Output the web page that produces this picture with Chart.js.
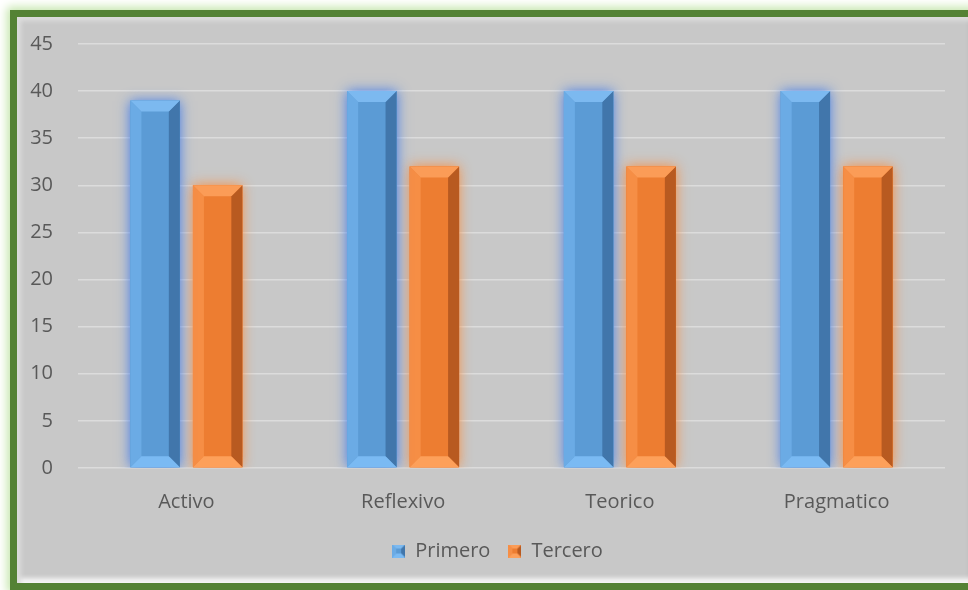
<!DOCTYPE html>
<html>
<head>
<meta charset="utf-8">
<script src="https://cdn.jsdelivr.net/npm/chart.js@4"></script>
<style>
  html, body { margin: 0; padding: 0; width: 968px; height: 590px; overflow: hidden; background: #ffffff; }
  .frame {
    position: absolute; left: 10px; top: 10px; width: 962px; height: 566px;
    border: 7px solid #548235; background: #c8c8c8;
    box-shadow: 0 0 9px 3px #c5e6ad, inset 7px 7px 4px -3px #dcdcdc, inset 0 -8px 4px -3px #f4f4f4, inset -12px 0 5px -4px #9c9c9c;
  }
  canvas { position: absolute; left: 0; top: 0; }
</style>
</head>
<body>
<div class="frame"></div>
<canvas id="chart" width="968" height="590"></canvas>
<script>
// categories and series
const categories = ['Activo', 'Reflexivo', 'Teorico', 'Pragmatico'];
const primero = [39, 40, 40, 40];
const tercero = [30, 32, 32, 32];
const yTicks = [0, 5, 10, 15, 20, 25, 30, 35, 40, 45];

// bevel colours per series
const looks = [
  { main: '#5b9bd5', top: '#7cb9f0', left: '#6babe5', right: '#4176ab', bottom: '#7abaf3', glow: 'rgba(60,120,235,0.95)' },
  { main: '#ed7d31', top: '#fb9c57', left: '#f68e45', right: '#b85a20', bottom: '#fda05a', glow: 'rgba(250,140,60,0.95)' }
];

function poly(ctx, pts, color) {
  ctx.beginPath();
  ctx.moveTo(pts[0][0], pts[0][1]);
  for (let i = 1; i < pts.length; i++) ctx.lineTo(pts[i][0], pts[i][1]);
  ctx.closePath();
  ctx.fillStyle = color;
  ctx.fill();
}

// draws the bevelled box look used by bars and legend icons
function bevel(ctx, x0, x1, yT, yB, look, b) {
  ctx.fillStyle = look.main;
  ctx.fillRect(x0, yT, x1 - x0, yB - yT);
  poly(ctx, [[x0, yT], [x0 + b, yT + b], [x0 + b, yB - b], [x0, yB]], look.left);
  poly(ctx, [[x1, yT], [x1 - b, yT + b], [x1 - b, yB - b], [x1, yB]], look.right);
  poly(ctx, [[x0, yT], [x1, yT], [x1 - b, yT + b], [x0 + b, yT + b]], look.top);
  poly(ctx, [[x0, yB], [x1, yB], [x1 - b, yB - b], [x0 + b, yB - b]], look.bottom);
}

function makeIcon(look) {
  const c = document.createElement('canvas');
  c.width = 13; c.height = 13;
  bevel(c.getContext('2d'), 0, 13, 0, 13, look, 4);
  return c;
}
const icons = looks.map(makeIcon);

const bevelPlugin = {
  id: 'bevel',
  afterLayout(chart) {
    // legend in the original sits centred on the wider frame
    chart.legend.left += 15;
    chart.legend.right += 15;
  },
  beforeDatasetDraw(chart, args) {
    const ctx = chart.ctx;
    ctx.save();
    ctx.shadowColor = looks[args.index].glow;
    ctx.shadowBlur = 12;
  },
  afterDatasetDraw(chart, args) {
    const ctx = chart.ctx;
    ctx.restore();
    const look = looks[args.index];
    args.meta.data.forEach(bar => {
      const p = bar.getProps(['x', 'y', 'base', 'width'], true);
      bevel(ctx, p.x - p.width / 2, p.x + p.width / 2, p.y, p.base, look, 11);
    });
  }
};

const font = { family: "'Open Sans', 'Liberation Sans', sans-serif", size: 20 };

new Chart(document.getElementById('chart'), {
  type: 'bar',
  data: {
    labels: categories,
    datasets: [
      { label: 'Primero', data: primero, backgroundColor: looks[0].main },
      { label: 'Tercero', data: tercero, backgroundColor: looks[1].main }
    ]
  },
  options: {
    responsive: false,
    animation: false,
    devicePixelRatio: 1,
    categoryPercentage: 0.577,
    barPercentage: 0.79,
    layout: { padding: { left: 20, right: 23, top: 44, bottom: 19 } },
    scales: {
      x: {
        grid: { display: false, drawTicks: false },
        border: { display: false },
        ticks: { color: '#595959', font: font, padding: 22 },
        afterFit: s => { s.height = 55; }
      },
      y: {
        min: 0, max: 45,
        afterBuildTicks: s => { s.ticks = yTicks.map(v => ({ value: v })); },
        grid: { color: '#dcdcdc', lineWidth: 1.5, drawTicks: false },
        border: { display: false },
        ticks: { color: '#595959', font: font, padding: 25 },
        afterFit: s => { s.width = 58; }
      }
    },
    plugins: {
      tooltip: { enabled: false },
      legend: {
        position: 'bottom',
        labels: {
          color: '#595959',
          font: font,
          usePointStyle: true,
          boxWidth: 13,
          padding: 18,
          generateLabels: chart => chart.data.datasets.map((ds, i) => ({
            text: ds.label, pointStyle: icons[i], fillStyle: looks[i].main,
            strokeStyle: looks[i].main, lineWidth: 0, fontColor: '#595959',
            hidden: false, datasetIndex: i
          }))
        }
      }
    }
  },
  plugins: [bevelPlugin]
});
</script>
</body>
</html>
